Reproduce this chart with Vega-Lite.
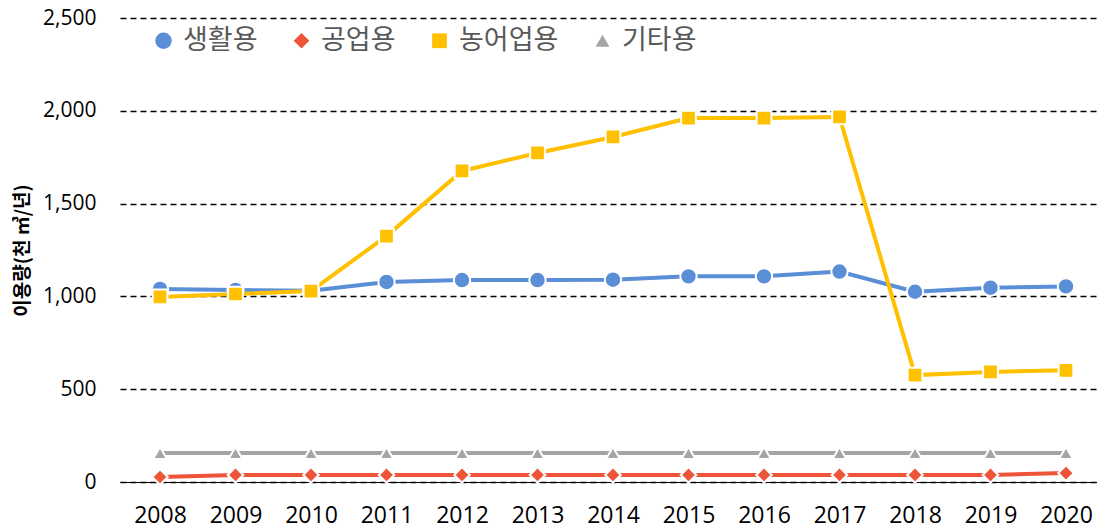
{
  "$schema": "https://vega.github.io/schema/vega-lite/v6.json",
  "width": 986,
  "height": 464,
  "autosize": {"type": "none"},
  "padding": {"left": 120, "top": 18, "right": 0, "bottom": 49},
  "background": "white",
  "config": {
    "view": {"stroke": null},
    "font": "Noto Sans CJK KR"
  },
  "data": {
    "values": [
      {"year": "2008", "series": "생활용", "value": 1040},
      {"year": "2009", "series": "생활용", "value": 1035},
      {"year": "2010", "series": "생활용", "value": 1030},
      {"year": "2011", "series": "생활용", "value": 1078},
      {"year": "2012", "series": "생활용", "value": 1088},
      {"year": "2013", "series": "생활용", "value": 1088},
      {"year": "2014", "series": "생활용", "value": 1090},
      {"year": "2015", "series": "생활용", "value": 1108},
      {"year": "2016", "series": "생활용", "value": 1108},
      {"year": "2017", "series": "생활용", "value": 1134},
      {"year": "2018", "series": "생활용", "value": 1025},
      {"year": "2019", "series": "생활용", "value": 1047},
      {"year": "2020", "series": "생활용", "value": 1054},
      {"year": "2008", "series": "공업용", "value": 27},
      {"year": "2009", "series": "공업용", "value": 38},
      {"year": "2010", "series": "공업용", "value": 38},
      {"year": "2011", "series": "공업용", "value": 38},
      {"year": "2012", "series": "공업용", "value": 38},
      {"year": "2013", "series": "공업용", "value": 38},
      {"year": "2014", "series": "공업용", "value": 38},
      {"year": "2015", "series": "공업용", "value": 38},
      {"year": "2016", "series": "공업용", "value": 38},
      {"year": "2017", "series": "공업용", "value": 38},
      {"year": "2018", "series": "공업용", "value": 38},
      {"year": "2019", "series": "공업용", "value": 38},
      {"year": "2020", "series": "공업용", "value": 48},
      {"year": "2008", "series": "농어업용", "value": 997},
      {"year": "2009", "series": "농어업용", "value": 1013},
      {"year": "2010", "series": "농어업용", "value": 1029},
      {"year": "2011", "series": "농어업용", "value": 1325},
      {"year": "2012", "series": "농어업용", "value": 1676},
      {"year": "2013", "series": "농어업용", "value": 1773},
      {"year": "2014", "series": "농어업용", "value": 1859},
      {"year": "2015", "series": "농어업용", "value": 1961},
      {"year": "2016", "series": "농어업용", "value": 1961},
      {"year": "2017", "series": "농어업용", "value": 1967},
      {"year": "2018", "series": "농어업용", "value": 576},
      {"year": "2019", "series": "농어업용", "value": 593},
      {"year": "2020", "series": "농어업용", "value": 602},
      {"year": "2008", "series": "기타용", "value": 156},
      {"year": "2009", "series": "기타용", "value": 156},
      {"year": "2010", "series": "기타용", "value": 156},
      {"year": "2011", "series": "기타용", "value": 156},
      {"year": "2012", "series": "기타용", "value": 156},
      {"year": "2013", "series": "기타용", "value": 156},
      {"year": "2014", "series": "기타용", "value": 156},
      {"year": "2015", "series": "기타용", "value": 156},
      {"year": "2016", "series": "기타용", "value": 156},
      {"year": "2017", "series": "기타용", "value": 156},
      {"year": "2018", "series": "기타용", "value": 156},
      {"year": "2019", "series": "기타용", "value": 156},
      {"year": "2020", "series": "기타용", "value": 156}
    ]
  },
  "encoding": {
    "x": {
      "field": "year",
      "type": "ordinal",
      "scale": {"type": "point", "padding": 0.53},
      "axis": {
        "title": null,
        "labelAngle": 0,
        "labelFontSize": 23,
        "labelColor": "#000000",
        "labelFont": "Open Sans",
        "labelPadding": 22,
        "ticks": false,
        "domainColor": "#000000",
        "domainWidth": 1.2,
        "grid": false
      }
    },
    "y": {
      "field": "value",
      "type": "quantitative",
      "scale": {"domain": [0, 2500]},
      "axis": {
        "title": "이용량(천 ㎥/년)",
        "titleFontSize": 19,
        "titleFontWeight": "bold",
        "titleColor": "#000000",
        "titlePadding": 10,
        "values": [0, 500, 1000, 1500, 2000, 2500],
        "format": ",d",
        "labelFontSize": 21,
        "labelColor": "#000000",
        "labelFont": "Open Sans",
        "labelPadding": 24,
        "ticks": false,
        "domain": false,
        "grid": true,
        "gridColor": "#000000",
        "gridDash": [6, 4],
        "gridWidth": 1.3
      }
    },
    "color": {
      "field": "series",
      "type": "nominal",
      "scale": {
        "domain": ["생활용", "공업용", "농어업용", "기타용"],
        "range": ["#5A8ED6", "#EE5538", "#FFC000", "#A5A5A5"]
      },
      "legend": {
        "orient": "none",
        "legendX": 30,
        "legendY": 9,
        "direction": "horizontal",
        "title": null,
        "labelFontSize": 27,
        "labelColor": "#595959",
        "labelFont": "Noto Sans CJK KR",
        "symbolSize": 130,
        "symbolStrokeWidth": 0,
        "columnPadding": 30,
        "labelOffset": 6
      }
    }
  },
  "layer": [
    {
      "mark": {"type": "line", "strokeWidth": 4}
    },
    {
      "mark": {"type": "point", "filled": true, "stroke": "white", "strokeWidth": 2, "opacity": 1},
      "encoding": {
        "shape": {
          "field": "series",
          "type": "nominal",
          "scale": {
            "domain": ["생활용", "공업용", "농어업용", "기타용"],
            "range": ["circle", "diamond", "square", "triangle-up"]
          },
          "legend": null
        },
        "size": {
          "field": "series",
          "type": "nominal",
          "scale": {
            "domain": ["생활용", "공업용", "농어업용", "기타용"],
            "range": [270, 190, 330, 340]
          },
          "legend": null
        }
      }
    }
  ]
}
